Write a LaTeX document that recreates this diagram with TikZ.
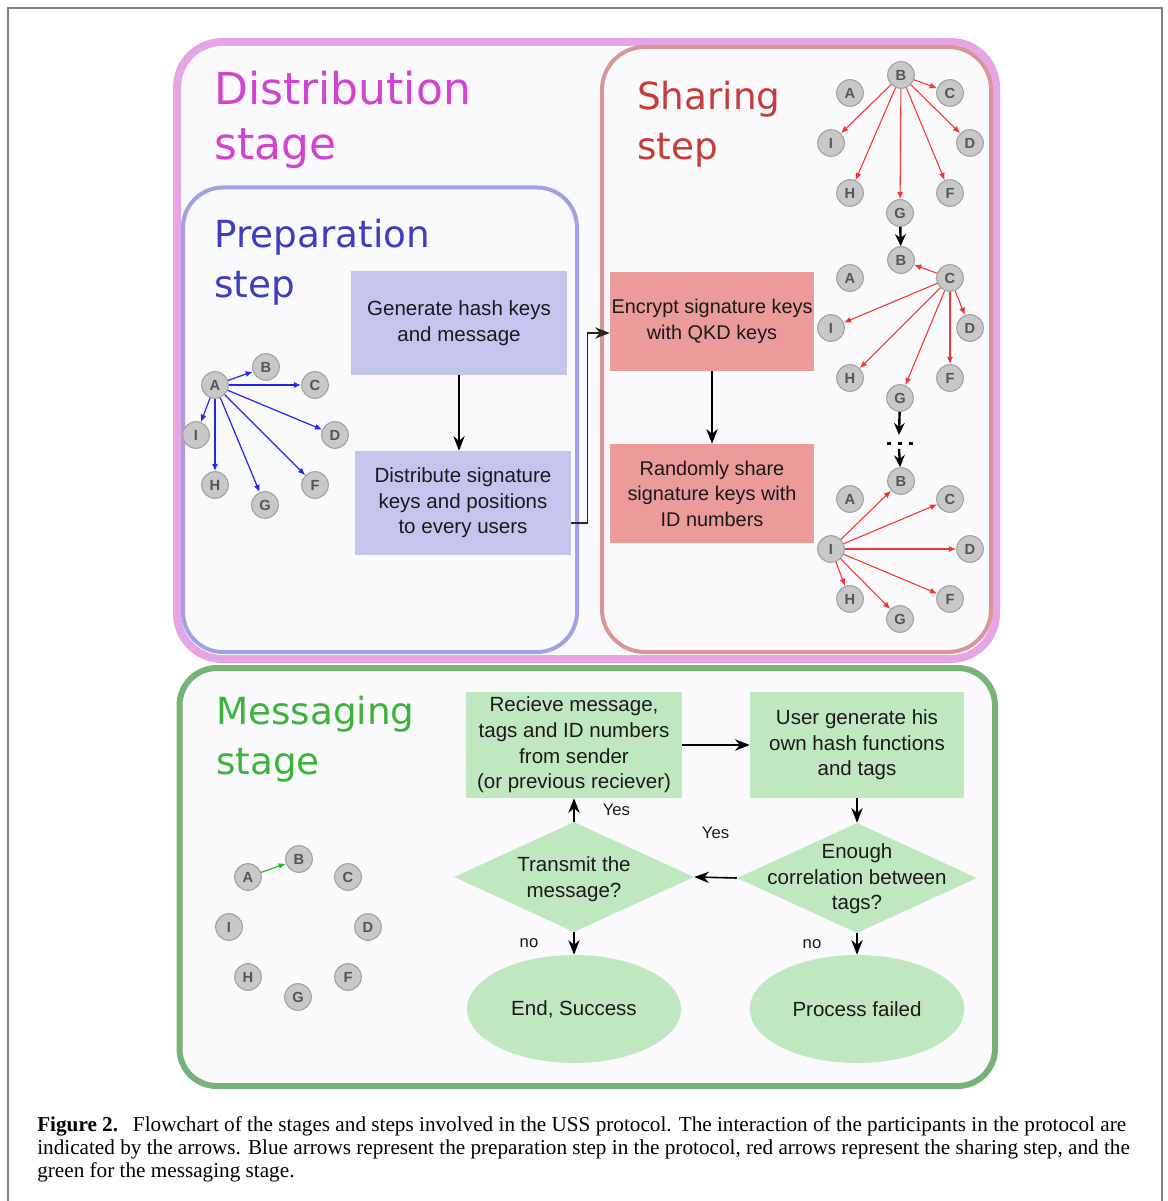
\documentclass[tikz,border=0pt]{standalone}
\usepackage{fontspec}
\setmainfont{Liberation Sans}
\newfontfamily\titlefont{DejaVu Sans}
\newfontfamily\capfont{Liberation Serif}
\usetikzlibrary{arrows.meta,shapes.geometric}

\definecolor{distC}{HTML}{E6A5E5}
\definecolor{distT}{HTML}{D143D0}
\definecolor{prepC}{HTML}{A2A2E2}
\definecolor{prepT}{HTML}{3D3DBE}
\definecolor{sharC}{HTML}{D99696}
\definecolor{sharT}{HTML}{C93B3B}
\definecolor{mesC}{HTML}{77B377}
\definecolor{mesT}{HTML}{3CB43C}
\definecolor{bgC}{HTML}{FAFAFD}
\definecolor{blueF}{HTML}{C4C4EF}
\definecolor{redF}{HTML}{EC9B9B}
\definecolor{greenF}{HTML}{C0E8C0}
\definecolor{nodeF}{HTML}{C8C8C8}
\definecolor{nodeD}{HTML}{A0A0A0}
\definecolor{nodeT}{HTML}{555555}
\definecolor{txt}{HTML}{1A1A1A}
\definecolor{frameC}{HTML}{808080}
\definecolor{arrB}{HTML}{2424EE}
\definecolor{arrR}{HTML}{F43434}
\definecolor{arrG}{HTML}{22BB22}

\newcommand\peers[3]{%
  \node[pnode] (#1B) at (#2,#3) {B};
  \node[pnode] (#1A) at (#2-51,#3+18) {A};
  \node[pnode] (#1C) at (#2+49,#3+18) {C};
  \node[pnode] (#1D) at (#2+69,#3+68) {D};
  \node[pnode] (#1F) at (#2+49,#3+118) {F};
  \node[pnode] (#1G) at (#2-1,#3+138) {G};
  \node[pnode] (#1H) at (#2-51,#3+118) {H};
  \node[pnode] (#1I) at (#2-70,#3+68) {I};
}

\tikzset{
  pnode/.style={circle, fill=nodeF, draw=nodeD, line width=0.8pt, minimum size=20pt,
    inner sep=0pt, font=\fontsize{11pt}{12pt}\selectfont\bfseries, text=nodeT},
  barrow/.style={arrB, line width=0.9pt, -{Latex[length=5.5pt,width=4.5pt]}},
  rarrow/.style={arrR, line width=0.8pt, -{Latex[length=5.5pt,width=4.5pt]}},
  garrow/.style={arrG, line width=0.9pt, -{Latex[length=5.5pt,width=4.5pt]}},
  bigdown/.style={black, line width=1.8pt, -{Stealth[length=9pt,width=8pt]}},
  flow/.style={black, line width=1.2pt, -{Stealth[length=11pt,width=8.5pt]}},
  boxtext/.style={text=txt, align=center, font=\fontsize{15.4pt}{19.2pt}\selectfont},
  bluebox/.style={boxtext, fill=blueF, minimum width=162pt, minimum height=78pt, inner sep=0pt},
  redbox/.style={boxtext, fill=redF, minimum width=153pt, minimum height=74.25pt, inner sep=0pt,
    font=\fontsize{14.9pt}{19.2pt}\selectfont},
  greenbox/.style={boxtext, fill=greenF, minimum width=162pt, minimum height=79.5pt, inner sep=0pt},
  ttl/.style={anchor=base west, inner sep=0pt, font=\titlefont\fontsize{28pt}{30pt}\selectfont},
  lbl/.style={text=txt, inner sep=0pt, font=\fontsize{12.5pt}{14pt}\selectfont},
  capline/.style={anchor=base west, inner sep=0pt, text=black, font=\capfont\fontsize{15.9pt}{17pt}\selectfont},
}

\begin{document}
\begin{tikzpicture}[x=0.75pt, y=-0.75pt]
\useasboundingbox (0,0) rectangle (1167,1201);
\fill[white] (0,0) rectangle (1167,1201);
% outer frame
\draw[frameC, line width=1.6pt] (8,1201) -- (8,8) -- (1162,8) -- (1162,1201);

% stage / step frames
\draw[distC, fill=bgC, line width=6pt, rounded corners=34pt] (177,42) rectangle (996,659);
\draw[prepC, fill=bgC, line width=3pt, rounded corners=30pt] (183,187.5) rectangle (577,652);
\draw[sharC, fill=bgC, line width=3pt, rounded corners=32pt] (602,47) rectangle (991,652);
\draw[mesC, fill=bgC, line width=4.5pt, rounded corners=28pt] (179.5,668) rectangle (995,1086);

% titles
\node[ttl, text=distT, font=\titlefont\fontsize{33pt}{35pt}\selectfont] (t1a) at (214,105) {Distribution};
\node[ttl, text=distT, font=\titlefont\fontsize{33pt}{35pt}\selectfont] (t1b) at (214,160) {stage};
\node[ttl, text=prepT] (t2a) at (214,248) {Preparation};
\node[ttl, text=prepT] (t2b) at (214,298) {step};
\node[ttl, text=sharT] (t3a) at (637,110) {Sharing};
\node[ttl, text=sharT] (t3b) at (637,160) {step};
\node[ttl, text=mesT] (t4a) at (216,724) {Messaging};
\node[ttl, text=mesT] (t4b) at (216,774) {stage};

% preparation boxes
\node[bluebox] (gen) at (459,323) {Generate hash keys\\and message};
\node[bluebox] (dis) at (463,503) {Distribute signature\\keys and positions\\to every users};
\draw[flow] (gen.south) -- (dis.north -| gen.south);

% sharing boxes
\node[redbox] (enc) at (712,321.5) {Encrypt signature keys\\with QKD keys};
\node[redbox] (rnd) at (712,493.5) {Randomly share\\signature keys with\\ID numbers};
\draw[flow] (enc.south) -- (rnd.north);
\draw[black!85, line width=0.9pt, -{Stealth[length=11pt,width=8.5pt]}]
  ([yshift=-15pt]dis.east) -- ++(16,0) |- ([yshift=-8.6pt]enc.west);

% preparation graph
\peers{p}{266}{367}
\foreach \t in {B,C,D,F,G,H,I} \draw[barrow] (pA) -- (p\t);

% sharing graphs
\peers{s}{901}{75}
\foreach \t in {C,D,F,G,H,I} \draw[rarrow] (sB) -- (s\t);
\peers{u}{901}{260}
\foreach \t in {B,D,F,G,H,I} \draw[rarrow] (uC) -- (u\t);
\peers{v}{901}{481}
\foreach \t in {B,C,D,F,G,H} \draw[rarrow] (vI) -- (v\t);
\draw[bigdown] (sG) -- (uB);
\coordinate (dotA) at (899,435);
\coordinate (dotB) at (899,449);
\draw[bigdown] (uG) -- (dotA);
\draw[bigdown] (dotB) -- (vB);
\foreach \x in {889,900,911} \fill[black] (\x-2,441.5) rectangle ++(4,3);

% messaging graph
\peers{m}{299}{859}
\draw[garrow] (mA) -- (mB);

% messaging flowchart
\node[greenbox] (rcv) at (574,745) {Recieve message,\\tags and ID numbers\\from sender\\(or previous reciever)};
\node[greenbox, minimum width=160.5pt] (usr) at (857,745) {User generate his\\own hash functions\\and tags};
\node[diamond, fill=greenF, minimum width=180pt, minimum height=82.5pt, inner sep=0pt] (trn) at (574,877) {};
\node[boxtext] (trnT) at (574,879) {Transmit the\\message?};
\node[diamond, fill=greenF, minimum width=180pt, minimum height=82.5pt, inner sep=0pt] (enu) at (857,878) {};
\node[boxtext] (enuT) at (857,879) {Enough\\correlation between\\tags?};
\node[ellipse, fill=greenF, minimum width=160.5pt, minimum height=81pt, inner sep=0pt, boxtext] (suc) at (574,1009) {End, Success};
\node[ellipse, fill=greenF, minimum width=161pt, minimum height=81pt, inner sep=0pt, boxtext] (fal) at (857,1009) {Process failed};

\draw[flow] (rcv.east) -- (usr.west);
\draw[flow] (usr.south) -- (enu.north);
\draw[flow] (enu.west) -- (trn.east) node[lbl, midway, yshift=33.75pt] {Yes};
\draw[flow] (trn.north) -- (rcv.south) node[lbl, midway, right=21pt] {Yes};
\draw[flow] (trn.south) -- (suc.north) node[lbl, midway, xshift=-33.75pt] {no};
\draw[flow] (enu.south) -- (fal.north) node[lbl, midway, xshift=-33.75pt] {no};

% caption
\node[capline] (c1) at (37,1131) {\textbf{Figure 2.}\hspace{0.7em}Flowchart of the stages and steps involved in the USS protocol. The interaction of the participants in the protocol are};
\node[capline] (c2) at (37,1154) {indicated by the arrows. Blue arrows represent the preparation step in the protocol, red arrows represent the sharing step, and the};
\node[capline] (c3) at (37,1177) {green for the messaging stage.};
\end{tikzpicture}
\end{document}
